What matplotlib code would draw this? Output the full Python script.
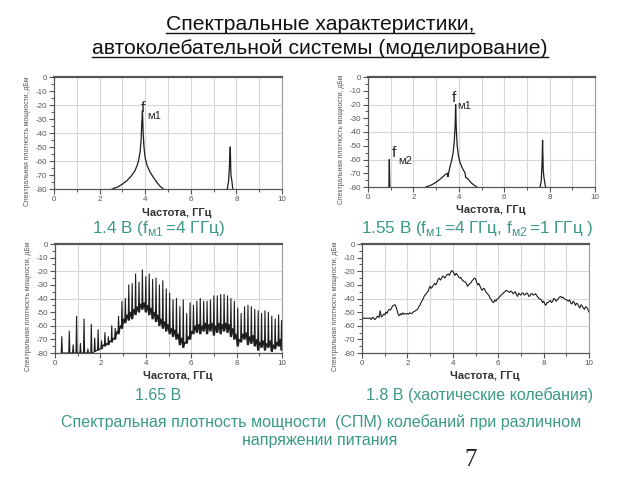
import numpy as np
import matplotlib
matplotlib.use("Agg")
import matplotlib.pyplot as plt
from matplotlib.lines import Line2D

plt.rcParams['font.family'] = ['Liberation Sans', 'DejaVu Sans']
plt.rcParams['mathtext.fontset'] = 'custom'
plt.rcParams['mathtext.rm'] = 'Liberation Sans'
plt.rcParams['axes.unicode_minus'] = False

# ---------------- data ----------------
# 1.4 V: main peak f_m1 and its harmonic
tl_peak1_f = [2.55, 2.8, 3.0, 3.2, 3.4, 3.55, 3.65, 3.72, 3.78, 3.82, 3.85, 3.88, 3.91, 3.95, 4.0, 4.08, 4.2, 4.35, 4.5, 4.65, 4.8]
tl_peak1_db = [-80, -78.5, -76.5, -74, -70.5, -67, -63, -59, -53, -45, -33, -24, -40, -51, -58, -63, -67.5, -71.5, -75, -78, -80]
tl_peak2_f = [7.60, 7.66, 7.70, 7.73, 7.76, 7.80, 7.84]
tl_peak2_db = [-80, -74, -62, -50, -70, -74, -80]

# 1.55 V: f_m2, f_m1 and harmonic
tr_peak0_f = [0.92, 0.93, 0.94, 0.95, 0.96]
tr_peak0_db = [-80, -70, -60, -70, -80]
tr_peak1_f = [2.55, 2.8, 3.0, 3.2, 3.4, 3.5, 3.52, 3.6, 3.68, 3.75, 3.8, 3.84, 3.86, 3.89, 3.93, 3.98, 4.05, 4.15, 4.28, 4.3, 4.4, 4.55, 4.7, 4.8]
tr_peak1_db = [-80, -78.5, -76.5, -74, -71, -70, -72.5, -66, -61, -55, -47, -35, -20, -38, -50, -57, -62, -66, -70, -73, -74, -77, -79, -80]
tr_peak2_f = [7.58, 7.63, 7.67, 7.69, 7.72, 7.75, 7.77, 7.82]
tr_peak2_db = [-80, -76, -62, -46, -68, -73, -75, -80]

# 1.65 V: line spectrum (spike position, top, base) + level between spikes
bl_spike_f = [0.30, 0.63, 0.80, 0.95, 1.12, 1.28, 1.45, 1.60, 1.75, 1.90, 2.05, 2.20, 2.35, 2.50, 2.65, 2.80,
              2.95, 3.10, 3.25, 3.40, 3.55, 3.70, 3.85, 4.00, 4.15, 4.30, 4.45, 4.60, 4.75, 4.90, 5.05, 5.20,
              5.35, 5.50, 5.65, 5.80, 5.95, 6.10, 6.25, 6.40, 6.55, 6.70, 6.85, 7.00, 7.15, 7.30, 7.45, 7.60,
              7.75, 7.90, 8.05, 8.20, 8.35, 8.50, 8.65, 8.80, 8.95, 9.10, 9.25, 9.40, 9.55, 9.70, 9.85, 9.98]
bl_spike_top = [-68, -64, -74, -53, -73, -55, -77, -59, -69, -63, -71, -65, -68, -60, -62, -53,
                -42, -40, -30, -29, -22, -28, -19, -24, -22, -26, -25, -30, -27, -33, -36, -41,
                -40, -46, -41, -51, -43, -45, -42, -40, -42, -42, -41, -38, -38, -37, -37, -38,
                -40, -42, -47, -51, -46, -45, -46, -48, -49, -51, -49, -50, -53, -55, -52, -56]
bl_spike_base = [-80, -80, -80, -80, -80, -80, -80, -80, -79, -78, -77, -75, -74, -72, -70, -66,
                 -62, -58, -56, -55, -52, -50, -48, -50, -52, -55, -57, -60, -62, -64, -66, -68,
                 -70, -74, -76, -73, -70, -66, -65, -66, -64, -66, -64, -67, -65, -66, -64, -65,
                 -68, -70, -75, -72, -70, -74, -73, -75, -78, -76, -78, -76, -79, -77, -75, -78]
bl_gap_db = [-80, -80, -80, -80, -80, -80, -80, -80,
             -78, -77, -74, -73, -71, -69, -64,
             -60, -55, -52, -50, -48, -46, -44, -43, -45, -47, -50, -52, -55, -57, -59, -62,
             -63, -66, -69, -72, -68, -64, -60, -59, -60, -58, -59, -58, -60, -58, -59, -58, -59,
             -62, -66, -70, -66, -65, -68, -67, -70, -72, -71, -73, -71, -74, -72, -70]

# 1.8 V: chaotic spectrum
br_f = np.round(np.arange(0, 10.001, 0.05), 2)
br_db = [-54.5, -54.5, -54.5, -54.5, -54.5, -54.5, -54.5, -54.3, -55.5, -54,
         -54, -55.5, -55, -53.5, -53, -54, -49, -53.5, -53, -51.5,
         -52, -50, -51, -49, -48, -48.5, -47, -45.5, -45, -44.5,
         -46, -49, -52, -52.5, -51, -52, -50.5, -51.5, -51, -51.5,
         -51, -51.5, -50.5, -51, -51, -50, -49.5, -49, -48.5, -48,
         -46, -45, -43, -41.5, -40, -38, -37, -36, -35, -33,
         -31, -32.5, -31.5, -30, -29, -30, -28.5, -26, -25, -26.5,
         -25.5, -23.5, -24, -25, -23.5, -22.5, -22, -23, -21, -19.5,
         -20, -21.5, -23, -21.5, -22.5, -24, -25, -24.5, -26, -27,
         -27.5, -28, -29, -31, -30, -29, -28.5, -27, -26, -25,
         -25.5, -28, -30, -29, -31, -33, -34, -32.5, -33, -35,
         -36, -37, -38, -40, -41, -42.5, -43, -41, -42, -40.5,
         -40, -39, -38, -37, -36.5, -35.5, -35, -34, -34.5, -35,
         -35.5, -34.5, -35, -36.5, -36, -35, -37, -38.5, -36, -37,
         -37.5, -36, -36, -37.5, -37, -36, -36.5, -38.5, -38, -36.5,
         -36.5, -37.5, -37, -36.5, -38, -39, -40, -40.5, -41, -43,
         -42, -44, -45, -43, -43, -42, -41.5, -43, -42, -40,
         -40.5, -42, -41, -40, -39, -38.5, -39.5, -39, -40, -40.5,
         -41, -41.5, -42, -41, -43.5, -44, -42, -43, -45, -43.5,
         -44, -46, -47, -44.5, -45.5, -47, -48, -46, -46.5, -48,
         -50]

ylabel_text = 'Спектральная плотность мощности, дБм'
xlabel_text = 'Частота, ГГц'
green = '#3a9a86'
linec = '#1e1e1e'

fig = plt.figure(figsize=(6.4, 4.8), dpi=100)
W, H = 640.0, 480.0

def make_ax(x0, y0, x1, y1):
    ax = fig.add_axes([x0 / W, 1 - y1 / H, (x1 - x0) / W, (y1 - y0) / H])
    ax.set_xlim(0, 10)
    ax.set_ylim(-80, 0)
    ax.set_xticks([0, 2, 4, 6, 8, 10])
    ax.set_xticks(range(0, 11), minor=True)
    ax.set_yticks(range(-80, 1, 10))
    ax.set_yticks(range(-80, 1, 5), minor=True)
    for v in range(1, 10):
        ax.axvline(v, color='#d6d6d6', lw=0.8, zorder=0)
    for v in (-20, -40, -60):
        ax.axhline(v, color='#d6d6d6', lw=0.8, zorder=0)
    ax.tick_params(which='major', direction='out', length=3.5, width=0.8, color='#555555',
                   labelsize=5.8, labelcolor='#555555', pad=1.5)
    ax.tick_params(which='minor', direction='out', length=2, width=0.7, color='#555555')
    for s in ('left', 'bottom'):
        ax.spines[s].set_color('#555555'); ax.spines[s].set_linewidth(0.9)
    ax.spines['top'].set_color('#555555'); ax.spines['top'].set_linewidth(1.6)
    ax.spines['right'].set_color('#9a9a9a'); ax.spines['right'].set_linewidth(0.8)
    ax.text(0.54, -0.21, xlabel_text, transform=ax.transAxes, ha='center', va='center',
            fontsize=8, fontweight='bold', color='#333333')
    ax.text(-0.117, 0.43, ylabel_text, transform=ax.transAxes, ha='center', va='center',
            rotation=90, fontsize=4.9, color='#555555',
            family=['Liberation Sans Narrow', 'Liberation Sans'])
    return ax

ax1 = make_ax(54, 77, 282, 189)
ax1.plot(tl_peak1_f, tl_peak1_db, color=linec, lw=0.9)
ax1.plot(tl_peak2_f, tl_peak2_db, color=linec, lw=0.9)

ax2 = make_ax(368, 77, 595, 187)
ax2.plot(tr_peak0_f, tr_peak0_db, color=linec, lw=0.9)
ax2.plot(tr_peak1_f, tr_peak1_db, color=linec, lw=0.9)
ax2.plot(tr_peak2_f, tr_peak2_db, color=linec, lw=0.9)

ax3 = make_ax(55, 244, 282, 353)
xs, ys = [], []
for i, (f, t, b) in enumerate(zip(bl_spike_f, bl_spike_top, bl_spike_base)):
    xs += [f - 0.025, f, f + 0.025]
    ys += [b, t, b]
    if i < len(bl_gap_db):
        xs.append((f + bl_spike_f[i + 1]) / 2)
        ys.append(bl_gap_db[i])
ax3.plot(xs, ys, color=linec, lw=0.8)

ax4 = make_ax(362, 244, 589, 353)
ax4.plot(br_f, br_db, color=linec, lw=0.8)

# peak annotations
def fm(ax, x, y, sub):
    ax.annotate('f', xy=(x, y), xycoords='data', fontsize=11, color='#222222', ha='left', va='baseline')
    ax.annotate(sub, xy=(x, y), xycoords='data', xytext=(4.5, -5), textcoords='offset points',
                fontsize=8, color='#222222', ha='left', va='baseline')

fm(ax1, 3.82, -25, 'м1')
fm(ax2, 3.67, -18.5, 'м1')
fm(ax2, 1.04, -58, 'м2')

# captions
def cap(x, y, s, size=11.5):
    fig.text(x / W, 1 - y / H, s, ha='center', va='center', fontsize=size, color=green)

cap(158, 229, r'1.4 В (f$_{\mathregular{м1}}\,$=4 ГГц)', 12.3)
cap(477, 229, r'1.55 В (f$_{\mathregular{м1}}\,$=4 ГГц, f$_{\mathregular{м2}}\,$=1 ГГц )', 12.3)
cap(158, 395, '1.65 В')
cap(480, 395, '1.8 В (хаотические колебания)')
cap(321, 422, 'Спектральная плотность мощности  (СПМ) колебаний при различном')
cap(320, 441, 'напряжении питания')

fig.text(471 / W, 1 - 460 / H, '7', ha='center', va='center', fontsize=18,
         family=['Liberation Serif', 'DejaVu Serif'], color='#222222')

t1 = fig.text(0.5, 1 - 29.5 / H, 'Спектральные характеристики,', ha='center', va='baseline', fontsize=15.2, color='#111111')
t2 = fig.text(0.5, 1 - 53.5 / H, 'автоколебательной системы (моделирование)', ha='center', va='baseline', fontsize=15.2, color='#111111')

fig.canvas.draw()
r = fig.canvas.get_renderer()
for t, base in ((t1, 29.5), (t2, 53.5)):
    bb = t.get_window_extent(r)
    yy = 1 - (base + 3) / H
    fig.add_artist(Line2D([bb.x0 / W, bb.x1 / W], [yy, yy], color='#111111', lw=1.0))

fig.savefig('out.png', dpi=100)
